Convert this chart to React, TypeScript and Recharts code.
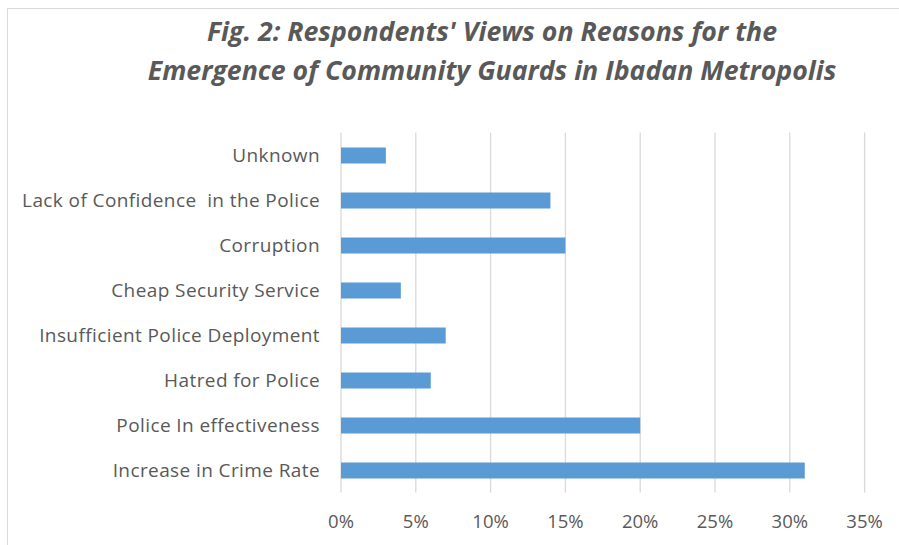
import React from "react";
import { BarChart, Bar, XAxis, YAxis, CartesianGrid } from "recharts";

const categories = [
  "Unknown",
  "Lack of Confidence  in the Police",
  "Corruption",
  "Cheap Security Service",
  "Insufficient Police Deployment",
  "Hatred for Police",
  "Police In effectiveness",
  "Increase in Crime Rate",
];
const values = [0.03, 0.14, 0.15, 0.04, 0.07, 0.06, 0.2, 0.31];
const xTicks = [0, 0.05, 0.1, 0.15, 0.2, 0.25, 0.3, 0.35];
const titleLines = [
  "Fig. 2: Respondents' Views on Reasons for the",
  "Emergence of Community Guards in Ibadan Metropolis",
];

const data = categories.map((c, i) => ({ name: c, value: values[i] }));

const FONT = "'Open Sans', Lato, sans-serif";
const TEXT = "#595959";

const YTick = (props: any) => {
  const { x, y, payload } = props;
  return (
    <text
      x={x}
      y={y}
      dy="0.35em"
      textAnchor="end"
      fill={TEXT}
      fontSize={19}
      fontFamily={FONT}
      style={{ whiteSpace: "pre", letterSpacing: "0.4px" }}
    >
      {payload.value}
    </text>
  );
};

const XTick = (props: any) => {
  const { x, y, payload } = props;
  return (
    <text
      x={x}
      y={y}
      dy="0.71em"
      textAnchor="middle"
      fill={TEXT}
      fontSize={18.5}
      fontFamily={FONT}
    >
      {`${Math.round(payload.value * 100)}%`}
    </text>
  );
};

export default function App() {
  return (
    <div style={{ position: "absolute", left: 0, top: 0, width: 899, height: 545, overflow: "hidden", background: "#fff", fontFamily: FONT }}>
      <div
        style={{
          position: "absolute",
          left: 7,
          top: 8,
          width: 1000,
          height: 600,
          border: "1px solid #d9d9d9",
          boxSizing: "border-box",
        }}
      />
      {titleLines.map((t, i) => (
        <div
          key={i}
          style={{
            position: "absolute",
            left: 0,
            width: 984,
            top: 14 + i * 39,
            textAlign: "center",
            fontSize: 26.7,
            fontWeight: 700,
            fontStyle: "italic",
            color: TEXT,
            lineHeight: "34px",
            whiteSpace: "nowrap",
          }}
        >
          {t}
        </div>
      ))}
      <div style={{ position: "absolute", left: 0, top: 0 }}>
        <BarChart
          width={899}
          height={545}
          data={data}
          layout="vertical"
          margin={{ top: 132.5, bottom: 22.5, left: 11, right: 34.4 }}
          barSize={16}
        >
          <CartesianGrid horizontal={false} stroke="#d9d9d9" strokeWidth={1.3} />
          <XAxis
            type="number"
            domain={[0, 0.35]}
            ticks={xTicks}
            axisLine={false}
            tickLine={false}
            tickSize={0}
            tickMargin={22}
            tick={<XTick />}
            interval={0}
            height={30}
          />
          <YAxis
            type="category"
            dataKey="name"
            width={330}
            axisLine={false}
            tickLine={false}
            tickSize={0}
            tickMargin={21}
            tick={<YTick />}
            interval={0}
          />
          <Bar dataKey="value" fill="#5b9bd5" isAnimationActive={false} />
        </BarChart>
      </div>
    </div>
  );
}
